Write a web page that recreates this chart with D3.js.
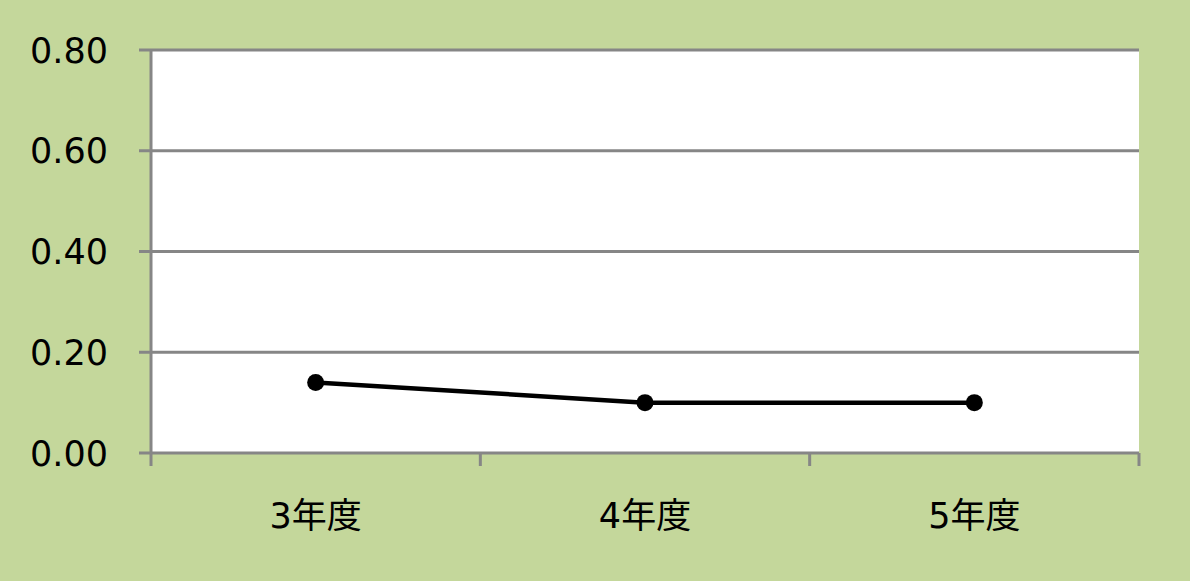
<!DOCTYPE html>
<html><head><meta charset="utf-8">
<script src="https://cdn.jsdelivr.net/npm/d3@7"></script>
<style>body{margin:0;background:#c4d79b;}svg{display:block;}</style>
</head><body>
<script>
const categories = ["3年度", "4年度", "5年度"];
const values = [0.14, 0.10, 0.10];
const yTicks = [0, 0.2, 0.4, 0.6, 0.8];

const W = 1190, H = 581;
const m = {left: 151, right: 1139, top: 50, bottom: 453};
const svg = d3.select("body").append("svg").attr("width", W).attr("height", H);
svg.append("rect").attr("width", W).attr("height", H).attr("fill", "#c4d79b");
svg.append("rect").attr("x", m.left).attr("y", m.top).attr("width", m.right - m.left).attr("height", m.bottom - m.top).attr("fill", "#fff");

const x = d3.scaleBand().domain(categories).range([m.left, m.right]);
const y = d3.scaleLinear().domain([0, 0.8]).range([m.bottom, m.top]);
const font = "'DejaVu Sans', 'Noto Sans CJK JP', sans-serif";
const grey = "#868686";

svg.append("g").selectAll("line").data(yTicks).join("line")
  .attr("x1", m.left - 12).attr("x2", m.right)
  .attr("y1", d => y(d)).attr("y2", d => y(d))
  .attr("stroke", grey).attr("stroke-width", 3);
svg.append("line").attr("x1", m.left).attr("x2", m.left).attr("y1", m.top).attr("y2", m.bottom + 13)
  .attr("stroke", grey).attr("stroke-width", 3);
const bounds = categories.map(c => x(c)).concat([x(categories[categories.length-1]) + x.bandwidth()]);
svg.append("g").selectAll("line").data(bounds.slice(1)).join("line")
  .attr("x1", d => d).attr("x2", d => d).attr("y1", m.bottom).attr("y2", m.bottom + 13)
  .attr("stroke", grey).attr("stroke-width", 3);

svg.append("g").selectAll("text").data(yTicks).join("text")
  .attr("x", 108).attr("y", d => y(d)).attr("dy", "0.36em")
  .attr("text-anchor", "end").attr("font-family", font).attr("font-size", 35)
  .attr("fill", "#000").text(d => d3.format(".2f")(d));
svg.append("g").selectAll("text").data(categories).join("text")
  .attr("x", d => x(d) + x.bandwidth() / 2).attr("y", 528)
  .attr("text-anchor", "middle").attr("font-family", font).attr("font-size", 35)
  .attr("fill", "#000").text(d => d);

const line = d3.line().x((d, i) => x(categories[i]) + x.bandwidth() / 2).y(d => y(d));
svg.append("path").datum(values).attr("d", line).attr("fill", "none").attr("stroke", "#000").attr("stroke-width", 4.5);
svg.append("g").selectAll("circle").data(values).join("circle")
  .attr("cx", (d, i) => x(categories[i]) + x.bandwidth() / 2).attr("cy", d => y(d)).attr("r", 8.5).attr("fill", "#000");
</script>
</body></html>
